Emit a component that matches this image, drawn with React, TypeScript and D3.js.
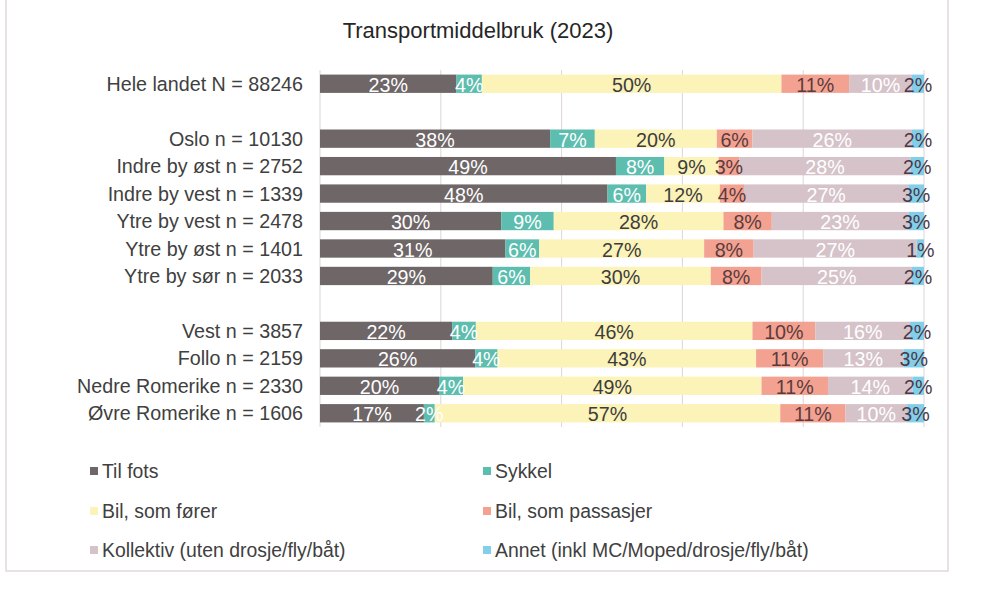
import React from "react";
import * as d3 from "d3";

const title = "Transportmiddelbruk (2023)";

const categories = [
  "Hele landet N = 88246",
  "",
  "Oslo n = 10130",
  "Indre by øst n = 2752",
  "Indre by vest n = 1339",
  "Ytre by vest n = 2478",
  "Ytre by øst n = 1401",
  "Ytre by sør n = 2033",
  " ",
  "Vest n = 3857",
  "Follo n = 2159",
  "Nedre Romerike n = 2330",
  "Øvre Romerike n = 1606",
];

const seriesNames = [
  "Til fots",
  "Sykkel",
  "Bil, som fører",
  "Bil, som passasjer",
  "Kollektiv (uten drosje/fly/båt)",
  "Annet (inkl MC/Moped/drosje/fly/båt)",
];

// values per category (null = empty spacer row)
const tilFots = [22.6, null, 38.1, 49.0, 47.6, 30.0, 30.7, 28.6, null, 21.9, 25.7, 19.7, 17.2];
const sykkel = [4.2, null, 7.4, 8.0, 6.4, 8.7, 5.6, 6.2, null, 3.9, 3.7, 4.0, 1.8];
const bilForer = [49.6, null, 20.2, 9.0, 12.2, 28.1, 27.3, 29.9, null, 45.8, 42.8, 49.4, 57.2];
const bilPassasjer = [11.2, null, 5.9, 3.4, 4.0, 8.0, 8.2, 8.4, null, 10.4, 11.1, 11.0, 10.8];
const kollektiv = [10.4, null, 26.4, 28.4, 27.2, 22.6, 27.0, 24.9, null, 15.7, 13.3, 14.0, 10.2];
const annet = [2.0, null, 2.0, 2.2, 2.6, 2.6, 1.2, 2.0, null, 2.3, 3.4, 1.9, 2.8];

const xTicks = [0, 20, 40, 60, 80, 100];

const colors = ["#6e6667", "#5dbdae", "#fbf3b8", "#f3a292", "#d5c3c9", "#83cfe9"];
const labelColors = ["#ffffff", "#ffffff", "#3d3d3d", "#5b3c3c", "#ffffff", "#4b3a4b"];

const FONT = "'Liberation Sans', Arial, Helvetica, sans-serif";

export default function App() {
  const width = 1000;
  const height = 589;
  const series = [tilFots, sykkel, bilForer, bilPassasjer, kollektiv, annet];

  const x = d3.scaleLinear().domain([0, 100]).range([320, 924]);
  const y = d3
    .scaleBand<string>()
    .domain(categories)
    .range([70, 427])
    .paddingInner(0.333)
    .paddingOuter(0.167);

  const rows = categories.map((c, i) => {
    const vals = series.map((s) => s[i]);
    if (vals[0] === null) return null;
    const stack: { x0: number; x1: number; v: number; k: number }[] = [];
    let acc = 0;
    vals.forEach((v, k) => {
      const val = v as number;
      stack.push({ x0: acc, x1: acc + val, v: val, k });
      acc += val;
    });
    return { c, stack };
  });

  const legendItems = seriesNames.map((n, i) => ({
    n,
    i,
    col: i % 2,
    row: Math.floor(i / 2),
  }));
  const legendX = [90, 483];
  const legendY = [471, 511, 550];

  return (
    <div style={{ position: "absolute", left: 0, top: 0 }}>
      <svg width={width} height={height} style={{ display: "block", background: "#ffffff" }}>
        <polyline
          points="6,0 6,571 948,571 948,0"
          fill="none"
          stroke="#e2d9dc"
          strokeWidth={1.5}
        />
        <text
          x={478}
          y={30}
          textAnchor="middle"
          dominantBaseline="central"
          fontFamily={FONT}
          fontSize={22}
          fill="#262626"
        >
          {title}
        </text>
        {xTicks.map((t) => (
          <line
            key={t}
            x1={x(t)}
            x2={x(t)}
            y1={70}
            y2={427}
            stroke="#ddd4d7"
            strokeWidth={1}
          />
        ))}
        {rows.map((r) =>
          r === null ? null : (
            <g key={r.c}>
              <text
                x={303}
                y={(y(r.c) as number) + y.bandwidth() / 2}
                textAnchor="end"
                dominantBaseline="central"
                fontFamily={FONT}
                fontSize={19.7}
                fill="#404040"
              >
                {r.c}
              </text>
              {r.stack.map((s) => (
                <rect
                  key={s.k}
                  x={x(s.x0)}
                  width={x(s.x1) - x(s.x0)}
                  y={y(r.c)}
                  height={y.bandwidth()}
                  fill={colors[s.k]}
                />
              ))}
              {r.stack.map((s) => (
                <text
                  key={"l" + s.k}
                  x={(x(s.x0) + x(s.x1)) / 2}
                  y={(y(r.c) as number) + y.bandwidth() / 2 + 1}
                  textAnchor="middle"
                  dominantBaseline="central"
                  fontFamily={FONT}
                  fontSize={19.7}
                  fill={labelColors[s.k]}
                >
                  {Math.round(s.v) + "%"}
                </text>
              ))}
            </g>
          )
        )}
        {legendItems.map((it) => (
          <g key={it.n}>
            <rect
              x={legendX[it.col]}
              y={legendY[it.row] - 4}
              width={8}
              height={8}
              fill={colors[it.i]}
            />
            <text
              x={legendX[it.col] + 12}
              y={legendY[it.row]}
              dominantBaseline="central"
              fontFamily={FONT}
              fontSize={19.4}
              fill="#404040"
            >
              {it.n}
            </text>
          </g>
        ))}
      </svg>
    </div>
  );
}
